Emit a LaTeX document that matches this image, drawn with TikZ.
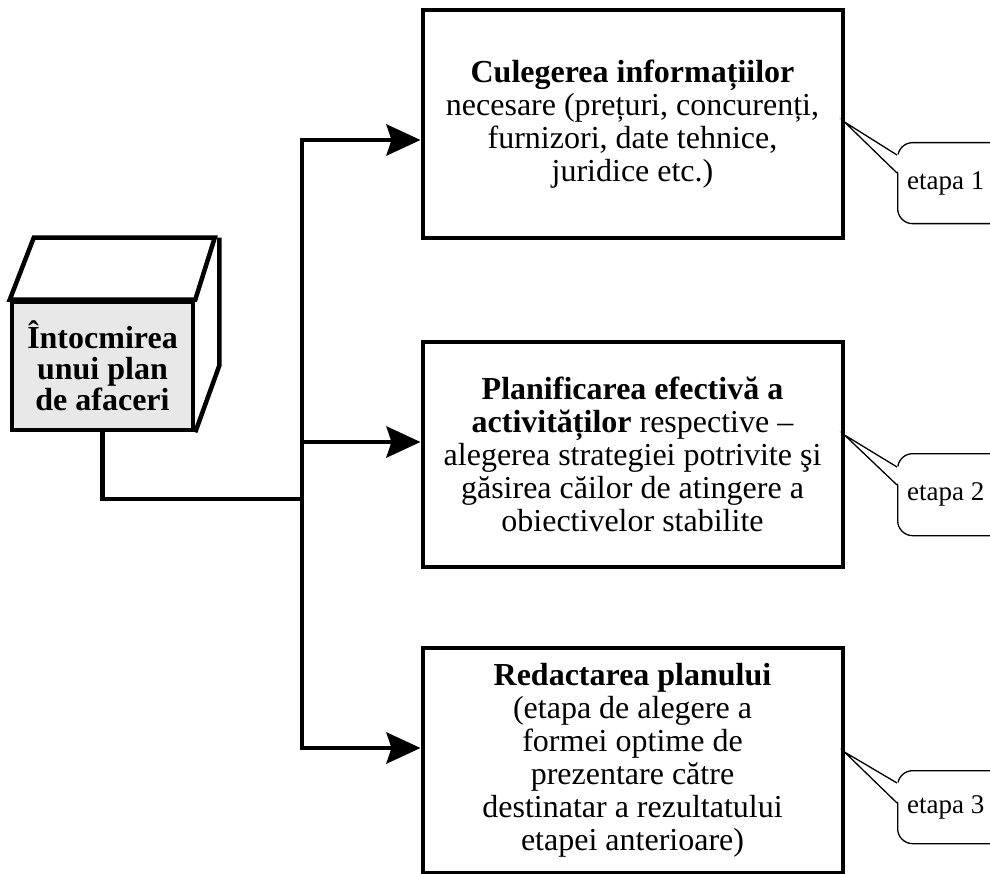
\documentclass[tikz,border=0pt]{standalone}
\usepackage{fontspec}
\setmainfont{Liberation Serif}
\usetikzlibrary{arrows.meta}

\begin{document}
\begin{tikzpicture}[x=1pt,y=-1pt,
  stagebox/.style={draw, line width=4pt, minimum width=420pt, align=center,
    inner sep=0pt, font=\fontsize{32}{33}\selectfont},
  frontface/.style={draw, line width=4.5pt, fill=gray!18, align=center,
    minimum width=181pt, minimum height=128pt, inner sep=0pt,
    font=\bfseries\fontsize{32}{31}\selectfont},
  edgeline/.style={line width=4.5pt, line join=miter},
  link/.style={line width=4.5pt, line join=miter},
  feed/.style={line width=4.5pt, -{Stealth[length=34pt, width=31pt, inset=5pt]}},
  tag/.style={draw, line width=1.3pt, fill=white, rounded corners=15pt,
    inner sep=0pt, font=\fontsize{27}{28}\selectfont},
  tagline/.style={line width=1.3pt, line join=miter},
]
\useasboundingbox (0,0) rectangle (990,874);
\clip (0,0) rectangle (990,874);

% cube: shaded front face with white top and side faces
\node[frontface] (cube) at (102.5,366) {Întocmirea\\unui plan\\de afaceri};
\draw[edgeline] (cube.north west) -- ++(24pt,62pt) -- ++(181pt,0pt)
  -- (cube.north east) -- cycle;
\draw[edgeline] (cube.north east) ++(24pt,62pt) -- ++(0pt,-128pt)
  -- (cube.south east);

% stage boxes
\node[stagebox, minimum height=228pt] (box1) at (632.5,124)
  {\textbf{Culegerea informațiilor}\\necesare (prețuri, concurenți,\\furnizori, date tehnice,\\juridice etc.)};
\node[stagebox, minimum height=225pt] (box2) at (632.5,454.5)
  {\textbf{Planificarea efectivă a}\\\textbf{activităților} respective –\\alegerea strategiei potrivite şi\\găsirea căilor de atingere a\\obiectivelor stabilite};
\node[stagebox, minimum height=225pt] (box3) at (632.5,760)
  {\textbf{Redactarea planului}\\(etapa de alegere a\\formei optime de\\prezentare către\\destinatar a rezultatului\\etapei anterioare)};

% distribution bus
\coordinate (join) at (302,499);
\coordinate (bus1) at (302,140);
\coordinate (bus2) at (302,442);
\coordinate (bus3) at (302,748);
\draw[link] (cube.south) |- (join);
\draw[link] (bus1) -- (bus3);
\draw[feed] ([xshift=-2.25pt]bus1) -- (bus1 -| box1.west);
\draw[feed] (bus2) -- (bus2 -| box2.west);
\draw[feed] ([xshift=-2.25pt]bus3) -- (bus3 -| box3.west);

% stage callouts
\node[tag, minimum width=108pt, minimum height=81pt, anchor=north west] (c1) at (897,142) {etapa 1\hspace*{12pt}};
\node[tag, minimum width=108pt, minimum height=82pt, anchor=north west] (c2) at (897,453) {etapa 2\hspace*{12pt}};
\node[tag, minimum width=108pt, minimum height=73pt, anchor=north west] (c3) at (897,770) {etapa 3\hspace*{12pt}};

\coordinate (p1) at (box1.east |- 0,122);
\coordinate (p2) at (box2.east |- 0,435);
\coordinate (p3) at (box3.east |- 0,752);

\foreach \c/\p/\ya/\yb in {c1/p1/155/173, c2/p2/467/485, c3/p3/783/803}{
  \fill[white] (\p) -- ([xshift=2pt]\c.west |- 0,\ya) -- ([xshift=2pt]\c.west |- 0,\yb) -- cycle;
  \draw[tagline] (\c.west |- 0,\ya) -- (\p) -- (\c.west |- 0,\yb);
}
\end{tikzpicture}
\end{document}
